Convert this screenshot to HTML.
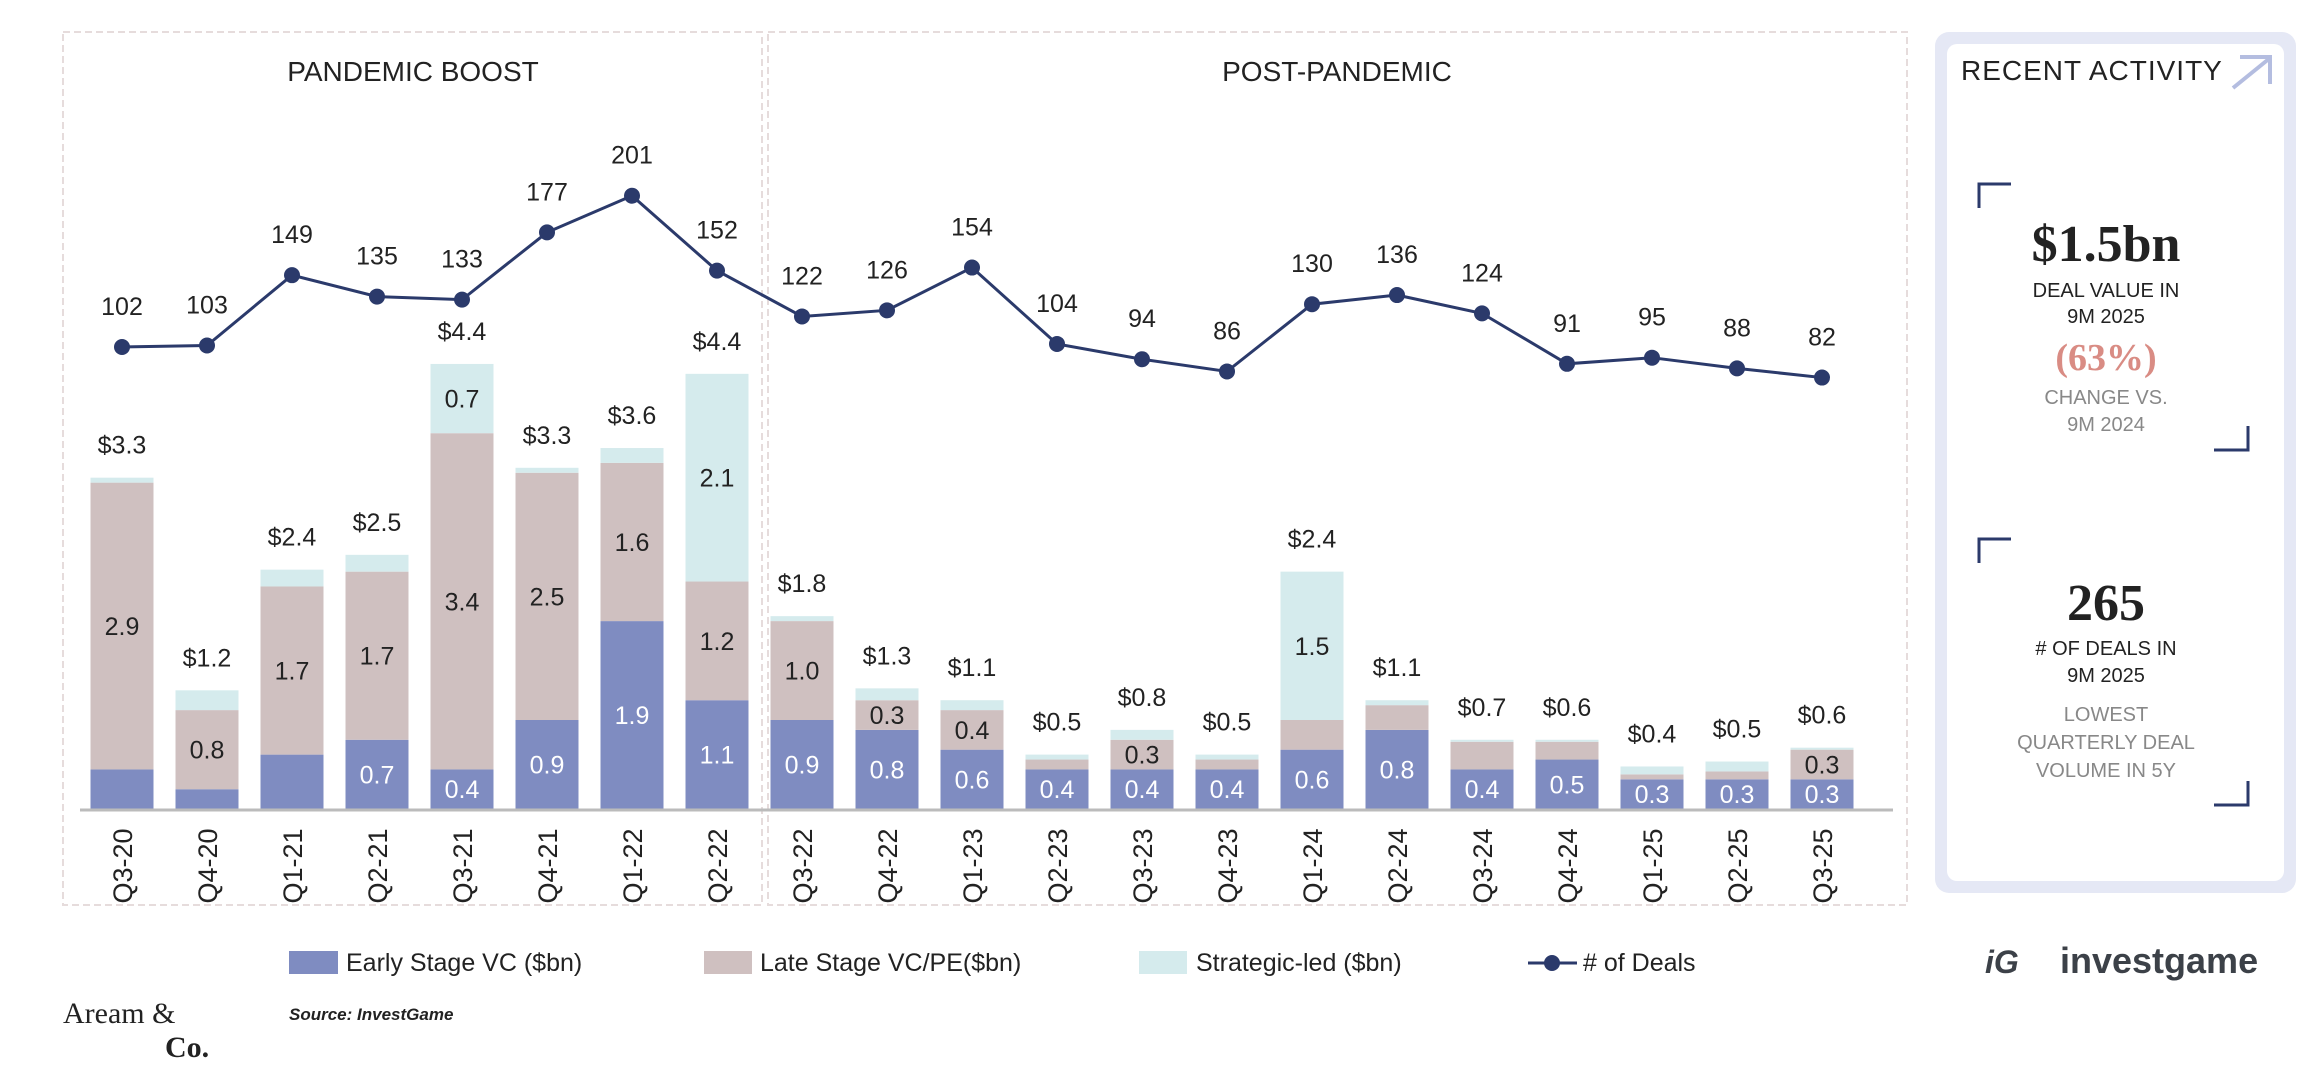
<!DOCTYPE html>
<html><head><meta charset="utf-8">
<style>
html,body{margin:0;padding:0;background:#fff;width:2304px;height:1070px;overflow:hidden;}
svg text{font-family:"Liberation Sans",sans-serif;}
</style></head>
<body>
<svg id="chart" width="2304" height="1070" viewBox="0 0 2304 1070" xmlns="http://www.w3.org/2000/svg">
  <rect x="0" y="0" width="2304" height="1070" fill="#fff"/>
  <rect x="63" y="32" width="699" height="873" fill="none" stroke="#e6dcdc" stroke-width="2" stroke-dasharray="7,4"/>
  <rect x="768" y="32" width="1139" height="873" fill="none" stroke="#e6dcdc" stroke-width="2" stroke-dasharray="7,4"/>
  <text x="413" y="81" font-size="28" text-anchor="middle" fill="#222">PANDEMIC BOOST</text>
  <text x="1337" y="81" font-size="28" text-anchor="middle" fill="#222">POST-PANDEMIC</text>
  <g id="bars"></g>
  <line x1="80" y1="810" x2="1893" y2="810" stroke="#bbb" stroke-width="3"/>
  <g id="xlabels"></g>
  <g id="line"></g>

  <!-- legend -->
  <rect x="289" y="951" width="49" height="23" fill="#7f8cc1"/>
  <text x="346" y="971" font-size="25" fill="#222">Early Stage VC ($bn)</text>
  <rect x="704" y="951" width="48" height="23" fill="#cfc0c0"/>
  <text x="760" y="971" font-size="25" fill="#222">Late Stage VC/PE($bn)</text>
  <rect x="1139" y="951" width="48" height="23" fill="#d5ebed"/>
  <text x="1196" y="971" font-size="25" fill="#222">Strategic-led ($bn)</text>
  <line x1="1528" y1="963" x2="1577" y2="963" stroke="#2b3a6b" stroke-width="3"/>
  <circle cx="1552" cy="963" r="8" fill="#2b3a6b"/>
  <text x="1583" y="971" font-size="25" fill="#222"># of Deals</text>

  <!-- footer -->
  <text x="63" y="1023" font-size="30" fill="#222" style="font-family:'Liberation Serif',serif">Aream &amp;</text>
  <text x="165" y="1057" font-size="30" font-weight="bold" fill="#222" style="font-family:'Liberation Serif',serif">Co.</text>
  <text x="289" y="1020" font-size="17" font-style="italic" font-weight="bold" fill="#222">Source: InvestGame</text>
  <text x="1985" y="973" font-size="32" font-style="italic" font-weight="bold" fill="#3c4148">iG</text>
  <text x="2060" y="973" font-size="36" font-weight="bold" fill="#3c4148">investgame</text>

  <!-- right card -->
  <rect x="1935" y="32" width="361" height="861" rx="14" fill="#e5e8f5"/>
  <rect x="1947" y="44" width="337" height="837" rx="10" fill="#fff"/>
  <text x="1961" y="80" font-size="28" letter-spacing="1" fill="#222">RECENT ACTIVITY</text>
  <path d="M2233 88 L2270 58 M2240 57 L2270 57 L2270 84" stroke="#b4bde0" stroke-width="4" fill="none"/>
  <path d="M1979 208 L1979 184 L2011 184" stroke="#2b3a6b" stroke-width="3" fill="none"/>
  <path d="M2214 450 L2248 450 L2248 426" stroke="#2b3a6b" stroke-width="3" fill="none"/>
  <text x="2106" y="261" font-size="52" font-weight="bold" text-anchor="middle" fill="#222" style="font-family:'Liberation Serif',serif">$1.5bn</text>
  <text x="2106" y="297" font-size="20" text-anchor="middle" fill="#222">DEAL VALUE IN</text>
  <text x="2106" y="323" font-size="20" text-anchor="middle" fill="#222">9M 2025</text>
  <text x="2106" y="370" font-size="38" font-weight="bold" text-anchor="middle" fill="#d98c84" style="font-family:'Liberation Serif',serif">(63%)</text>
  <text x="2106" y="404" font-size="20" text-anchor="middle" fill="#888">CHANGE VS.</text>
  <text x="2106" y="431" font-size="20" text-anchor="middle" fill="#888">9M 2024</text>
  <path d="M1979 563 L1979 539 L2011 539" stroke="#2b3a6b" stroke-width="3" fill="none"/>
  <text x="2106" y="620" font-size="52" font-weight="bold" text-anchor="middle" fill="#222" style="font-family:'Liberation Serif',serif">265</text>
  <text x="2106" y="655" font-size="20" text-anchor="middle" fill="#222"># OF DEALS IN</text>
  <text x="2106" y="682" font-size="20" text-anchor="middle" fill="#222">9M 2025</text>
  <text x="2106" y="721" font-size="20" text-anchor="middle" fill="#888">LOWEST</text>
  <text x="2106" y="749" font-size="20" text-anchor="middle" fill="#888">QUARTERLY DEAL</text>
  <text x="2106" y="777" font-size="20" text-anchor="middle" fill="#888">VOLUME IN 5Y</text>
  <path d="M2214 805 L2248 805 L2248 781" stroke="#2b3a6b" stroke-width="3" fill="none"/>
</svg>
<script>
const quarters = ["Q3-20","Q4-20","Q1-21","Q2-21","Q3-21","Q4-21","Q1-22","Q2-22","Q3-22","Q4-22","Q1-23","Q2-23","Q3-23","Q4-23","Q1-24","Q2-24","Q3-24","Q4-24","Q1-25","Q2-25","Q3-25"];
const earlyVC = [0.4,0.2,0.55,0.7,0.4,0.9,1.9,1.1,0.9,0.8,0.6,0.4,0.4,0.4,0.6,0.8,0.4,0.5,0.3,0.3,0.3];
const lateVC = [2.9,0.8,1.7,1.7,3.4,2.5,1.6,1.2,1.0,0.3,0.4,0.1,0.3,0.1,0.3,0.25,0.28,0.18,0.05,0.08,0.3];
const strategic = [0.05,0.2,0.17,0.17,0.7,0.05,0.15,2.1,0.05,0.12,0.1,0.05,0.1,0.05,1.5,0.05,0.02,0.02,0.08,0.1,0.02];
const totalLabels = ["$3.3","$1.2","$2.4","$2.5","$4.4","$3.3","$3.6","$4.4","$1.8","$1.3","$1.1","$0.5","$0.8","$0.5","$2.4","$1.1","$0.7","$0.6","$0.4","$0.5","$0.6"];
const earlyLabels = ["","","","0.7","0.4","0.9","1.9","1.1","0.9","0.8","0.6","0.4","0.4","0.4","0.6","0.8","0.4","0.5","0.3","0.3","0.3"];
const lateLabels = ["2.9","0.8","1.7","1.7","3.4","2.5","1.6","1.2","1.0","0.3","0.4","","0.3","","","","","","","","0.3"];
const stratLabels = ["","","","","0.7","","","2.1","","","","","","","1.5","","","","","",""];
const deals = [102,103,149,135,133,177,201,152,122,126,154,104,94,86,130,136,124,91,95,88,82];

const NS = "http://www.w3.org/2000/svg";
const X0 = 122, STEP = 85.0, BW = 63, BASE = 809, PXBN = 98.9;
function xPos(i){ return X0 + i*STEP; }
function yVal(v){ return BASE - v*PXBN; }
function yDeal(d){ return 347 - (d-102)*1.528; }
function mk(tag, attrs, parent){ const e=document.createElementNS(NS,tag); for(const k in attrs) e.setAttribute(k,attrs[k]); parent.appendChild(e); return e; }

const bars = document.getElementById('bars');
const xl = document.getElementById('xlabels');
const lineG = document.getElementById('line');
quarters.forEach((q,i)=>{
  const cx = xPos(i);
  const segs = [[earlyVC[i],'#7f8cc1',earlyLabels[i],'#fff','early'],[lateVC[i],'#cfc0c0',lateLabels[i],'#222','late'],[strategic[i],'#d5ebed',stratLabels[i],'#222','strategic']];
  let acc = 0;
  segs.forEach(s=>{
    const y1 = yVal(acc), y0 = yVal(acc+s[0]);
    const r = mk('rect',{x:cx-BW/2,y:y0,width:BW,height:y1-y0,fill:s[1]},bars);
    
    
    if(s[2]){
      const t = mk('text',{x:cx,y:(y0+y1)/2+9,'font-size':25,'text-anchor':'middle',fill:s[3]},bars);
      t.textContent = s[2];
      
      
    }
    acc += s[0];
  });
  const tt = mk('text',{x:cx,y:yVal(acc)-24,'font-size':25,'text-anchor':'middle',fill:'#222'},bars);
  tt.textContent = totalLabels[i];
  
  
  const xt = mk('text',{x:0,y:0,'font-size':27,'text-anchor':'middle',fill:'#222',transform:'translate('+(cx+10)+',866) rotate(-90)'},xl);
  xt.textContent = q;
  
  
});
const pts = deals.map((d,i)=>xPos(i)+','+yDeal(d)).join(' ');
const pl = mk('polyline',{points:pts,fill:'none',stroke:'#2b3a6b','stroke-width':3},lineG);


deals.forEach((d,i)=>{
  const c = mk('circle',{cx:xPos(i),cy:yDeal(d),r:8,fill:'#2b3a6b'},lineG);
  
  
  const t = mk('text',{x:xPos(i),y:yDeal(d)-32,'font-size':25,'text-anchor':'middle',fill:'#222'},lineG);
  t.textContent = d;
  
  
});
</script>
</body></html>
